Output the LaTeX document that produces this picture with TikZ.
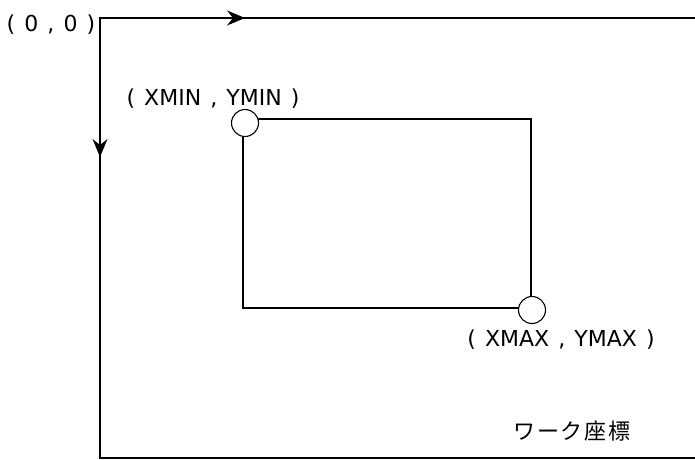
\documentclass[tikz,border=0pt]{standalone}
\usepackage{fontspec}
\setmainfont{DejaVu Sans}[WordSpace=1.3]
\newfontfamily\jpfont{Noto Sans CJK JP}[LetterSpace=9]
\usetikzlibrary{arrows.meta}
\begin{document}
\begin{tikzpicture}[x=1pt,y=-1pt,
  frame/.style={line width=1.5pt},
  axis/.style={line width=1.5pt,-{Stealth[length=18pt,width=15pt,inset=6pt]}},
  corner/.style={circle,draw,fill=white,line width=1.1pt,minimum size=27pt,inner sep=0pt},
  lbl/.style={font=\fontsize{22}{26}\selectfont,anchor=base,inner sep=0pt}]
  \useasboundingbox (0,0) rectangle (695,459);
  % outer work area
  \coordinate (O) at (100,18);
  \coordinate (TR) at (695,18);
  \coordinate (BL) at (100,458);
  \coordinate (BR) at (695,458);
  \coordinate (XA) at (245,18);
  \coordinate (YA) at (100,157);
  \draw[frame] (TR) -- (O) -- (BL) -- (BR);
  \draw[axis] (O) -- (XA);
  \draw[axis] (O) -- (YA);
  % window
  \coordinate (MIN) at (243,119);
  \coordinate (MAX) at (531,308);
  \draw[line width=1.1pt] (MIN) rectangle (MAX);
  \node[corner] (cmin) at (245,123) {};
  \node[corner] (cmax) at (532,310) {};
  % labels
  \node[lbl] (org) at (51,31) {( 0 , 0 )};
  \node[lbl] (lmin) at (213,105) {( XMIN , YMIN )};
  \node[lbl] (lmax) at (561,346) {( XMAX , YMAX )};
  \node[lbl,font=\fontsize{22}{26}\jpfont] (work) at (572,439) {ワーク座標};
\end{tikzpicture}
\end{document}
